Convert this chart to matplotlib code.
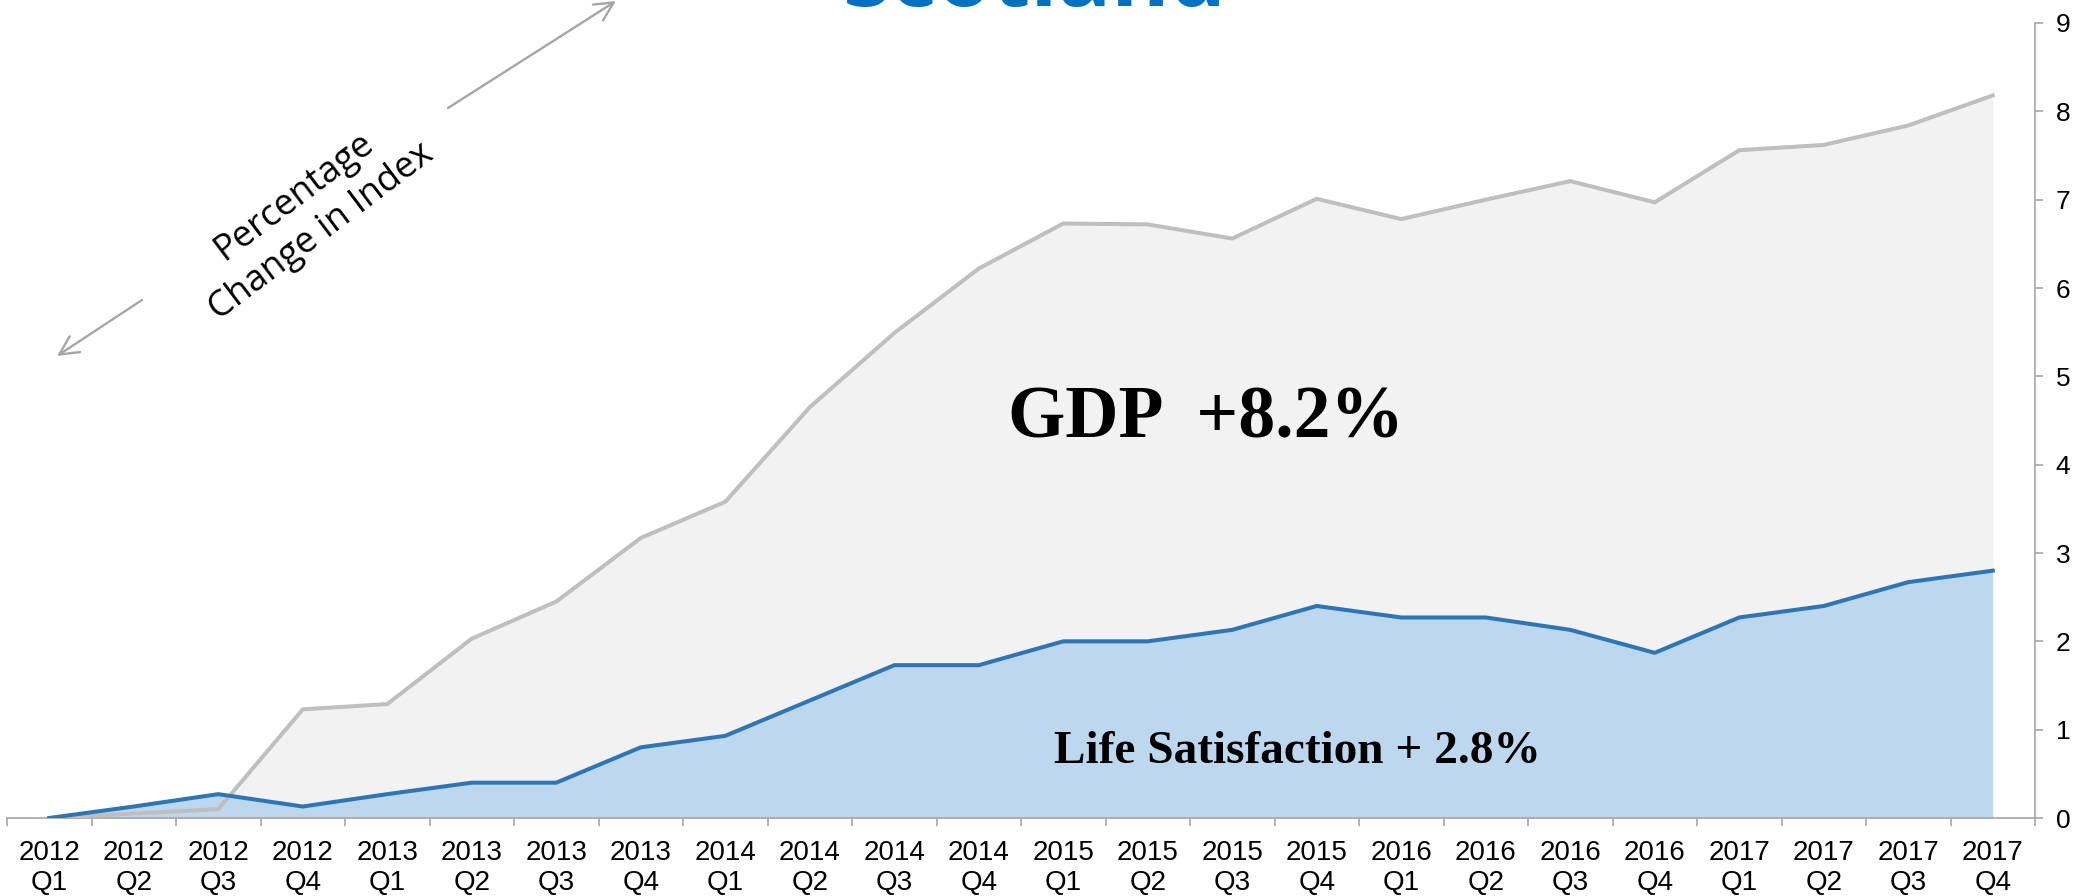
import matplotlib.pyplot as plt
import numpy as np

plt.rcParams['font.family'] = ['Liberation Sans', 'DejaVu Sans']

# quarters 2012 Q1 .. 2017 Q4
years = ['2012', '2013', '2014', '2015', '2016', '2017']
quarters = ['Q1', 'Q2', 'Q3', 'Q4']
labels = [y + '\n' + q for y in years for q in quarters]

# percentage change in index since 2012 Q1
gdp = [0.0, 0.05, 0.1, 1.23, 1.29, 2.03, 2.45, 3.17, 3.58, 4.65, 5.49, 6.22,
       6.73, 6.72, 6.56, 7.01, 6.78, 7.0, 7.21, 6.97, 7.56, 7.62, 7.84, 8.18]
life = [0.0, 0.13, 0.27, 0.13, 0.27, 0.4, 0.4, 0.8, 0.93, 1.33, 1.73, 1.73,
        2.0, 2.0, 2.13, 2.4, 2.27, 2.27, 2.13, 1.87, 2.27, 2.4, 2.67, 2.8]

grey = '#A6A6A6'

fig = plt.figure(figsize=(20.8, 8.96), dpi=100)
ax = fig.add_axes([7/2080, 78/896, 2028/2080, 795/896])

x = np.arange(len(gdp))
ax.fill_between(x, 0, gdp, color='#F2F2F2', lw=0, zorder=1)
ax.fill_between(x, 0, life, color='#BDD7EE', lw=0, zorder=2)
ax.plot(x, gdp, color='#BFBFBF', lw=2.9, zorder=3)
ax.plot(x, life, color='#2E75B6', lw=2.9, zorder=4)

ax.set_xlim(-0.5, len(gdp) - 0.5)
ax.set_ylim(0, 9)

for s in ['left', 'top']:
    ax.spines[s].set_visible(False)
for s in ['right', 'bottom']:
    ax.spines[s].set_color(grey)
    ax.spines[s].set_linewidth(1.2)

# category ticks sit between the points, labels at the points
ax.set_xticks(np.arange(-0.5, len(gdp), 1))
ax.set_xticks(x, labels, minor=True)
ax.tick_params(axis='x', which='major', length=6, width=1.2, color=grey, labelbottom=False)
ax.tick_params(axis='x', which='minor', length=0, labelsize=20, pad=16)

ax.yaxis.tick_right()
ax.set_yticks(range(10))
ax.tick_params(axis='y', length=6, width=1.2, color=grey, labelsize=19, pad=9)

fig.text(1035/2080, 1 - 6/896, 'Scotland', ha='center', va='baseline',
         fontsize=64, fontweight='bold', color='#0070C0', family='Open Sans')

fig.text(1206/2080, 1 - 437/896, 'GDP  +8.2%', ha='center', va='baseline',
         fontsize=53, fontweight='bold', family='Liberation Serif')
fig.text(1297/2080, 1 - 763/896, 'Life Satisfaction + 2.8%', ha='center', va='baseline',
         fontsize=34, fontweight='bold', family='Liberation Serif')

fig.text(308/2080, 1 - 214/896, 'Percentage\nChange in Index', ha='center', va='center',
         rotation=37, rotation_mode='anchor', fontsize=26, family='Open Sans',
         multialignment='center', linespacing=1.3)

arrow = dict(arrowstyle='->,head_length=0.9,head_width=0.45', color=grey, lw=1.7,
             mutation_scale=15, shrinkA=0, shrinkB=0)
fig.add_artist(plt.Annotation('', xy=(57/2080, 1 - 356/896), xytext=(142/2080, 1 - 300/896),
                              xycoords='figure fraction', textcoords='figure fraction',
                              arrowprops=arrow))
fig.add_artist(plt.Annotation('', xy=(616/2080, 1 - 1/896), xytext=(448/2080, 1 - 108/896),
                              xycoords='figure fraction', textcoords='figure fraction',
                              arrowprops=arrow))

fig.savefig('out.png', dpi=100)
